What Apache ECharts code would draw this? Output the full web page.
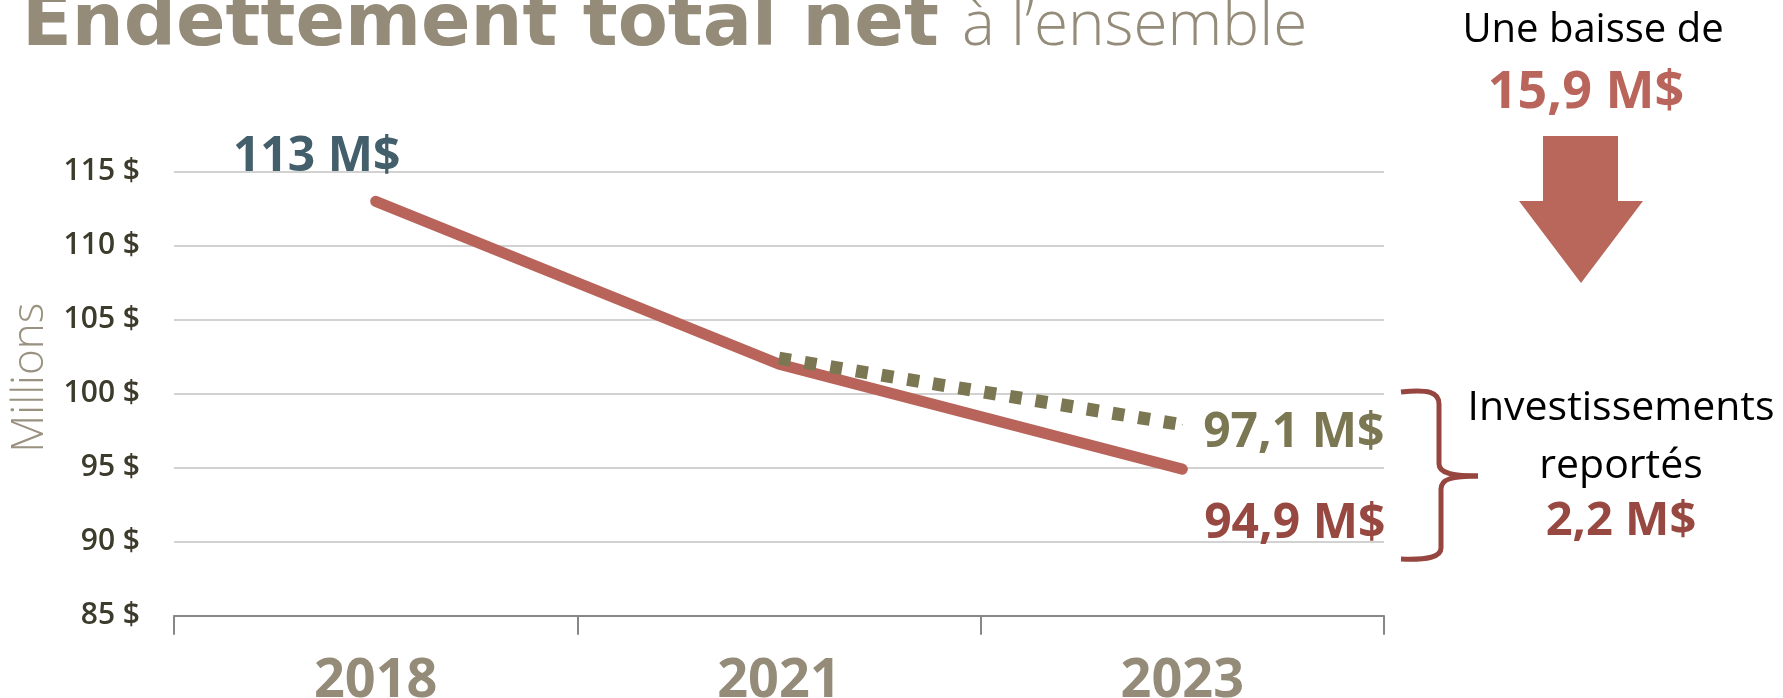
<!DOCTYPE html>
<html>
<head>
<meta charset="utf-8">
<title>Endettement total net</title>
<script src="https://cdn.jsdelivr.net/npm/echarts@6/dist/echarts.min.js"></script>
<style>
  html, body { margin: 0; padding: 0; background: #fff; }
  #chart { width: 1783px; height: 698px; }
</style>
</head>
<body>
<div id="chart"></div>
<script>
// années et valeurs (millions $)
const years = ['2018', '2021', '2023'];
const totalNet = [113, 102.0, 94.9];
// scénario si les investissements n'avaient pas été reportés
const sansReport = [null, 102.4, 97.9];
const yMin = 85, yMax = 115, yStep = 5;

const rouge = '#B9645A';
const olive = '#7B7752';
const beige = '#948B78';

let myChart = echarts.init(document.getElementById('chart'), null, { renderer: 'canvas' });

// étiquettes de valeur collées aux points
const totalData = totalNet.map((v, i) => {
  let item = { value: v };
  if (i === 0) {
    item.label = { show: true, position: 'inside', offset: [-59, -44], formatter: '113 M$', color: '#435F6B' };
  }
  if (i === 2) {
    item.label = { show: true, position: 'inside', align: 'right', offset: [203, 55], formatter: '94,9 M$', color: '#974840' };
  }
  return item;
});
const reportData = sansReport.map((v, i) => {
  let item = { value: v };
  if (i === 2) {
    item.label = { show: true, position: 'inside', align: 'right', offset: [202, 9], formatter: '97,1 M$', color: olive };
  }
  return item;
});

const labelFont = { fontFamily: 'Open Sans', fontWeight: 'bold', fontSize: 48 };
const brace = { stroke: '#96463F', lineWidth: 5, fill: null };

let option = {
  animation: false,
  backgroundColor: '#fff',
  grid: { left: 174, right: 399, top: 171.7, bottom: 82.3, outerBoundsMode: 'none' },
  xAxis: {
    type: 'category',
    data: years,
    axisLine: { lineStyle: { color: '#878787', width: 2 } },
    axisTick: { show: true, length: 19, lineStyle: { color: '#878787', width: 2 } },
    axisLabel: { color: beige, fontFamily: 'Open Sans', fontWeight: 'bold', fontSize: 54, margin: 39 },
    splitLine: { show: false }
  },
  yAxis: {
    type: 'value',
    min: yMin,
    max: yMax,
    interval: yStep,
    name: 'Millions',
    nameLocation: 'middle',
    nameRotate: 90,
    nameGap: 111,
    nameTextStyle: { color: '#9A9281', fontFamily: 'Open Sans', fontWeight: 300, fontSize: 44, padding: [0, 0, 0, 32] },
    axisLine: { show: false },
    axisTick: { show: false },
    axisLabel: {
      formatter: '{value} $',
      color: '#3D3B2B',
      fontFamily: 'Open Sans',
      fontWeight: 600,
      fontSize: 30,
      margin: 34
    },
    splitLine: { lineStyle: { color: '#C3C3C3', width: 1.5 } }
  },
  series: [
    {
      name: 'Endettement total net',
      type: 'line',
      data: totalData,
      symbol: 'circle',
      symbolSize: 1,
      itemStyle: { color: rouge },
      lineStyle: { color: rouge, width: 11, cap: 'round', join: 'round' },
      label: labelFont,
      z: 2
    },
    {
      name: 'Sans report',
      type: 'line',
      data: reportData,
      symbol: 'circle',
      symbolSize: 1,
      itemStyle: { color: olive },
      lineStyle: { color: olive, width: 13, type: [12, 14], cap: 'butt' },
      label: labelFont,
      z: 3
    }
  ],
  graphic: [
    // titre
    {
      type: 'text', x: 22, y: 26,
      style: { text: 'Endettement total net', fill: beige, font: 'bold 73px "DejaVu Sans"', textAlign: 'left', textVerticalAlign: 'middle' }
    },
    {
      type: 'text', x: 962, y: 27,
      style: { text: 'à l’ensemble', fill: beige, font: '300 62px "Open Sans"', textAlign: 'left', textVerticalAlign: 'middle' }
    },
    // baisse
    {
      type: 'text', x: 1593, y: 31,
      style: { text: 'Une baisse de', fill: '#000', font: '40px "Open Sans"', textAlign: 'center', textVerticalAlign: 'middle' }
    },
    {
      type: 'text', x: 1586, y: 93,
      style: { text: '15,9 M$', fill: '#B9655B', font: 'bold 52px "Open Sans"', textAlign: 'center', textVerticalAlign: 'middle' }
    },
    {
      type: 'polygon',
      shape: { points: [[1543, 136], [1618, 136], [1618, 201], [1643, 201], [1581, 283], [1519, 201], [1543, 201]] },
      style: { fill: '#B9665B' }
    },
    // accolade
    { type: 'bezierCurve', shape: { x1: 1401, y1: 392, cpx1: 1428, cpy1: 389, cpx2: 1439, cpy2: 392, x2: 1439, y2: 404 }, style: brace },
    { type: 'line', shape: { x1: 1439, y1: 404, x2: 1439, y2: 464 }, style: brace },
    { type: 'bezierCurve', shape: { x1: 1439, y1: 464, cpx1: 1439, cpy1: 473, cpx2: 1452, cpy2: 476, x2: 1478, y2: 476 }, style: brace },
    { type: 'bezierCurve', shape: { x1: 1478, y1: 476, cpx1: 1452, cpy1: 476, cpx2: 1441, cpy2: 479, x2: 1441, y2: 489 }, style: brace },
    { type: 'line', shape: { x1: 1441, y1: 489, x2: 1441, y2: 548 }, style: brace },
    { type: 'bezierCurve', shape: { x1: 1441, y1: 548, cpx1: 1441, cpy1: 557, cpx2: 1428, cpy2: 560, x2: 1401, y2: 559 }, style: brace },
    {
      type: 'text', x: 1621, y: 408,
      style: { text: 'Investissements', fill: '#000', font: '41px "Open Sans"', textAlign: 'center', textVerticalAlign: 'middle' }
    },
    {
      type: 'text', x: 1621, y: 466,
      style: { text: 'reportés', fill: '#000', font: '41px "Open Sans"', textAlign: 'center', textVerticalAlign: 'middle' }
    },
    {
      type: 'text', x: 1621, y: 522,
      style: { text: '2,2 M$', fill: '#974840', font: 'bold 47px "Open Sans"', textAlign: 'center', textVerticalAlign: 'middle' }
    }
  ]
};

myChart.setOption(option);
window.addEventListener('resize', function() {
  myChart.resize();
});
</script>
</body>
</html>
